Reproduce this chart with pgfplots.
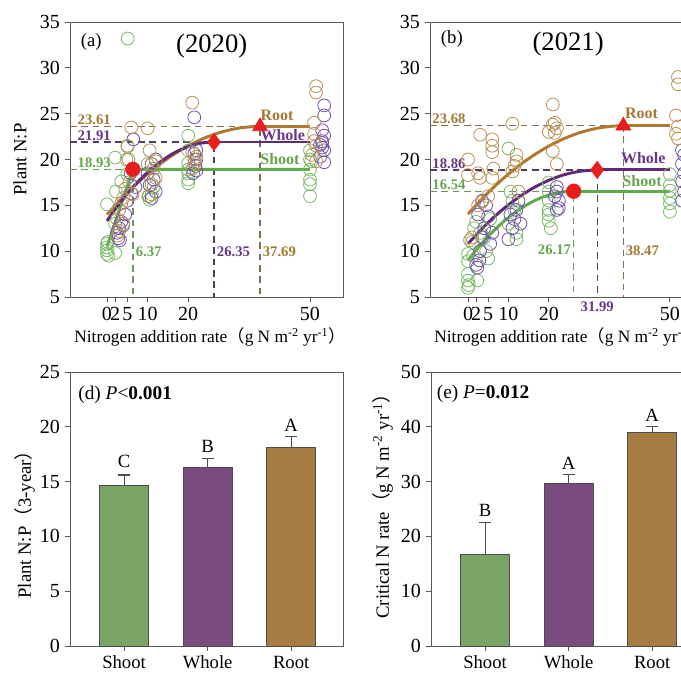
\documentclass[border=0pt]{standalone}
\usepackage{fontspec}
\setmainfont{Liberation Serif}
\newfontfamily\cjk{Noto Sans CJK SC}
\usepackage{pgfplots}
\pgfplotsset{compat=1.18}

\definecolor{shootc}{RGB}{95,170,75}
\definecolor{wholec}{RGB}{95,42,115}
\definecolor{rootc}{RGB}{176,120,48}
\definecolor{shootpt}{RGB}{120,185,100}
\definecolor{wholept}{RGB}{112,82,168}
\definecolor{rootpt}{RGB}{185,145,85}
\definecolor{shoottx}{RGB}{100,165,80}
\definecolor{wholetx}{RGB}{105,55,135}
\definecolor{roottx}{RGB}{165,120,50}
\definecolor{shootds}{RGB}{110,150,95}
\definecolor{wholeds}{RGB}{80,60,95}
\definecolor{rootds}{RGB}{130,110,80}
\definecolor{redm}{RGB}{232,30,30}
\definecolor{barg}{RGB}{122,164,102}
\definecolor{barp}{RGB}{122,75,126}
\definecolor{barb}{RGB}{165,124,66}

\tikzset{lbl/.style={font=\bfseries\fontsize{11}{11}\selectfont, inner sep=1pt}}
\pgfplotsset{
  panel/.style={scale only axis, width=204.75pt,
    axis line style={black!65, line width=0.7pt},
    tick style={black!65, line width=0.7pt},
    tick align=outside, tick pos=left, major tick length=4pt,
    ticklabel style={font=\fontsize{15}{15}\selectfont},
    /pgf/number format/assume math mode=true,
    label style={font=\fontsize{14}{16}\selectfont},
    clip=false},
  scat/.style={panel, height=206.25pt, ymin=5, ymax=35,
    ytick={5,10,...,35}, xtick={0,2,5,10,20,50},
    xlabel={Nitrogen addition rate{\cjk （}g N m\textsuperscript{-2} yr\textsuperscript{-1}{\cjk ）}},
    xlabel style={at={(axis description cs:0.513,-0.145)}, anchor=center, font=\fontsize{13}{15}\selectfont}},
  bars/.style={panel, height=205.5pt, xmin=0.353, xmax=3.62, ymin=0,
    xtick={1,2,3}, xticklabels={Shoot,Whole,Root},
    xticklabel style={font=\fontsize{14}{14}\selectfont}},
  pts/.style={only marks, mark=o, mark size=4.8pt, mark options={line width=0.6pt}},
  dsh/.style={line width=1pt, dash pattern=on 5pt off 3.5pt},
  crv/.style={line width=2.2pt},
  bar/.style={ybar, bar shift=0pt, bar width=0.587, draw=black!70, line width=0.6pt,
    error bars/y dir=plus, error bars/y explicit,
    error bars/error mark=|,
    error bars/error bar style={black!70, line width=0.8pt},
    error bars/error mark options={black!70, line width=0.8pt, mark size=4.5pt}},
}

\begin{document}
\begin{tikzpicture}
\path[use as bounding box, clip] (0,0) rectangle (510.75pt,511.5pt);

% (a) 2020
\begin{axis}[scat, at={(52.5pt,288.75pt)}, anchor=south west,
  xmin=-9.11, xmax=58.13,
  ylabel={Plant N:P}, ylabel style={at={(axis description cs:-0.183,0.5)}, anchor=center}]
\addplot[pts, shootpt] coordinates {
 (0,10.8) (0,10.4) (0,10.1) (0,9.7) (0.4,9.5) (0.2,11.0) (0,15.1) (2,9.8) (2,13.0) (2.2,16.5)
 (2,20.2) (5.1,33.2) (5.1,21.4) (4.8,20.0) (5,18.4) (3.5,17.6)
 (10.3,16.0) (10.5,15.6) (11,16.2) (10,19.5) (11.5,17.0)
 (20,22.6) (20,21.0) (20,19.6) (20,18.9) (20,18.5) (20,17.8) (20,17.4)
 (50,21.0) (50,20.0) (50.3,19.8) (50,18.9) (50,17.8) (50,17.3) (50,16.0)};
\addplot[pts, wholept] coordinates {
 (2.5,12.0) (3,12.5) (3.5,13.2) (4,12.8) (2.8,11.4) (3.2,11.2) (4.5,14.0) (5,15.5) (6.5,22.2)
 (5.8,18.5) (7,17.0) (6,16.3)
 (10,18.5) (11,19.5) (11.5,17.8) (12,16.5) (11,15.8) (12,20.0) (10.5,17.2)
 (21.5,24.6) (21.5,20.6) (22,20.0) (21.8,19.3) (22,18.8) (21.2,18.5) (22,21.0)
 (53.5,25.9) (53.5,24.8) (53,23.2) (53.5,22.6) (53,22.0) (52.5,21.6) (53,21.3) (53.5,21.0)
 (52.5,20.3) (53.5,19.7) (53,21.8)};
\addplot[pts, rootpt] coordinates {
 (2.5,13.5) (3,14.5) (3.5,15.2) (4,15.8) (3,12.2) (4.5,16.8) (2.6,11.7) (5.5,17.5) (6,23.5)
 (5.3,20.0) (6.3,16.2) (4,13.0) (5,21.5)
 (10,23.4) (10.5,21.0) (11,19.5) (11.5,19.0) (12,18.0) (10.2,16.0) (11,17.3) (12,19.8)
 (21,26.2) (21,20.8) (21.5,20.0) (21.5,19.6) (21,19.0) (22,20.3)
 (51.5,28.0) (51.5,27.3) (51,24.0) (51,22.8) (51.5,21.5) (50.5,20.5) (51.5,19.8) (51,22.0)};
\addplot[dsh, rootds] coordinates {(-9.11,23.61) (37.69,23.61) (37.69,5)};
\addplot[dsh, wholeds] coordinates {(-9.11,21.91) (26.35,21.91) (26.35,5)};
\addplot[dsh, shootds] coordinates {(-9.11,18.93) (6.37,18.93) (6.37,5)};
\addplot[crv, rootc, smooth] coordinates {(0,14.00) (4,15.93) (8,17.65) (12,19.15) (16,20.43)
 (20,21.49) (24,22.34) (28,22.97) (32,23.39) (36,23.59) (37.69,23.61)};
\addplot[crv, rootc] coordinates {(37.69,23.61) (50,23.61)};
\addplot[crv, shootc] coordinates {(0,10.5) (6.37,18.93) (50,18.93)};
\addplot[crv, wholec, smooth] coordinates {(0,13.30) (2,14.56) (4,15.72) (6,16.78) (8,17.73)
 (10,18.60) (12,19.36) (14,20.02) (16,20.58) (18,21.05) (20,21.41) (22,21.68) (24,21.84) (26.35,21.91)};
\addplot[crv, wholec] coordinates {(26.35,21.91) (50,21.91)};
\addplot[only marks, mark=*, mark size=5.5pt, redm] coordinates {(6.37,18.93)};
\addplot[only marks, mark=diamond*, mark size=6.5pt, redm] coordinates {(26.35,21.91)};
\addplot[only marks, mark=triangle*, mark size=6.5pt, redm] coordinates {(37.69,23.61)};
\node[lbl, roottx, anchor=south west] at (axis cs:-7.6,23.61) {23.61};
\node[lbl, wholetx, anchor=south west] at (axis cs:-7.6,21.91) {21.91};
\node[lbl, shoottx, anchor=south west] at (axis cs:-7.6,18.93) {18.93};
\node[lbl, shoottx, anchor=west] at (axis cs:6.7,9.9) {6.37};
\node[lbl, wholetx, anchor=west] at (axis cs:26.7,9.9) {26.35};
\node[lbl, roottx, anchor=west] at (axis cs:38.0,9.9) {37.69};
\node[lbl, roottx, font=\bfseries\fontsize{12}{12}\selectfont] at (axis cs:41.9,24.85) {Root};
\node[lbl, wholetx, font=\bfseries\fontsize{12}{12}\selectfont] at (axis cs:43.3,22.7) {Whole};
\node[lbl, shoottx, font=\bfseries\fontsize{12}{12}\selectfont] at (axis cs:42.6,20.1) {Shoot};
\node[font=\fontsize{14}{14}\selectfont] at (axis cs:-3.9,32.8) {(a)};
\node[font=\fontsize{20}{20}\selectfont] at (axis cs:25.8,32.4) {(2020)};
\end{axis}

% (b) 2021
\begin{axis}[scat, at={(322.5pt,288.75pt)}, anchor=south west,
  xmin=-9.41, xmax=58.2]
\addplot[pts, shootpt] coordinates {
 (0,8.9) (0,7.5) (0,6.8) (0.2,6.3) (0,6.0) (0,9.7) (1,11.0) (1.5,12.5) (2,13.2) (1.2,9.5)
 (2.3,6.8) (3,12.0) (4.5,10.0) (5,9.2) (5.5,13.5) (4,11.5)
 (10,21.2) (10.5,16.5) (11,15.5) (12,11.3) (11.5,14.5) (10,13.0) (12,12.0)
 (20,17.5) (20,15.5) (20,14.5) (20,14.0) (20,13.3) (20.5,12.5) (20,16.5)
 (50,18.4) (50,17.2) (50,16.6) (50,15.8) (50,15.2) (50,14.3)};
\addplot[pts, wholept] coordinates {
 (2,8.5) (2.3,8.2) (2.8,9.0) (3,10.0) (3.5,11.5) (4,12.5) (4.5,15.0) (3.5,15.5) (5,13.8)
 (6,12.0) (5.5,10.8) (2.5,14.0)
 (10,11.3) (11,12.5) (11.5,13.5) (12,14.5) (12.5,15.5) (13,13.0) (10.5,14.0)
 (22,17.0) (22,16.5) (22.5,15.5) (22,14.5) (22.5,14.7) (21.5,16.0)
 (53,21.0) (53.5,20.5) (53,19.5) (53.5,18.5) (53,17.6) (53.5,16.5) (53,15.5)};
\addplot[pts, rootpt] coordinates {
 (0,20.0) (0,18.3) (0.5,11.2) (1,11.5) (3,22.7) (2.5,18.5) (3,18.0) (2.5,15.0) (3.5,15.4)
 (6,22.2) (6,21.5) (6,20.8) (6.3,19.0) (6,18.0) (5,16.0)
 (11,23.9) (11.5,19.3) (12,19.8) (11,18.7) (12.5,16.5) (12,20.5)
 (20,23.0) (21,26.0) (21.5,24.0) (21,23.8) (22,23.4) (21.5,22.9) (21,20.9) (22,19.5)
 (52,29.0) (52,28.2) (51.5,24.8) (52,23.6) (51.5,22.8) (52,22.3)};
\addplot[dsh, rootds] coordinates {(-9.41,23.68) (38.47,23.68) (38.47,5)};
\addplot[dsh, wholeds] coordinates {(-9.41,18.86) (31.99,18.86) (31.99,5)};
\addplot[dsh, shootds] coordinates {(-9.41,16.54) (26.17,16.54) (26.17,5)};
\addplot[crv, rootc, smooth] coordinates {(0,14.05) (4,15.95) (8,17.64) (12,19.12) (16,20.39)
 (20,21.46) (24,22.32) (28,22.97) (32,23.41) (36,23.64) (38.47,23.68)};
\addplot[crv, rootc] coordinates {(38.47,23.68) (50,23.68)};
\addplot[crv, wholec, smooth] coordinates {(0,10.80) (4,12.69) (8,14.33) (12,15.71) (16,16.85)
 (20,17.73) (24,18.36) (28,18.73) (31.99,18.86)};
\addplot[crv, wholec] coordinates {(31.99,18.86) (50,18.86)};
\addplot[crv, shootc, smooth] coordinates {(0,9.00) (3,10.63) (6,12.06) (9,13.29) (12,14.33)
 (15,15.17) (18,15.81) (21,16.25) (24,16.49) (26.17,16.54)};
\addplot[crv, shootc] coordinates {(26.17,16.54) (50,16.54)};
\addplot[only marks, mark=*, mark size=5.5pt, redm] coordinates {(26.17,16.54)};
\addplot[only marks, mark=diamond*, mark size=6.5pt, redm] coordinates {(31.99,18.86)};
\addplot[only marks, mark=triangle*, mark size=6.5pt, redm] coordinates {(38.47,23.68)};
\node[lbl, roottx, anchor=south west] at (axis cs:-9.2,23.68) {23.68};
\node[lbl, wholetx, anchor=south west] at (axis cs:-9.2,18.86) {18.86};
\node[lbl, shoottx, anchor=south west] at (axis cs:-9.2,16.54) {16.54};
\node[lbl, shoottx, anchor=east] at (axis cs:25.9,10.1) {26.17};
\node[lbl, wholetx, anchor=north] at (axis cs:31.99,4.6) {31.99};
\node[lbl, roottx, anchor=west] at (axis cs:38.7,10.1) {38.47};
\node[lbl, roottx, font=\bfseries\fontsize{12}{12}\selectfont] at (axis cs:43.0,25.0) {Root};
\node[lbl, wholetx, font=\bfseries\fontsize{12}{12}\selectfont] at (axis cs:43.4,20.2) {Whole};
\node[lbl, shoottx, font=\bfseries\fontsize{12}{12}\selectfont] at (axis cs:43.1,17.7) {Shoot};
\node[font=\fontsize{14}{14}\selectfont] at (axis cs:-4.0,33.1) {(b)};
\node[font=\fontsize{20}{20}\selectfont] at (axis cs:24.8,32.6) {(2021)};
\end{axis}

% (d)
\begin{axis}[bars, at={(52.5pt,27pt)}, anchor=south west,
  ymax=25, ytick={0,5,...,25},
  ylabel={Plant N:P{\cjk （}3-year{\cjk ）}},
  ylabel style={at={(axis description cs:-0.165,0.46)}, anchor=center}]
\addplot[bar, fill=barg] coordinates {(1,14.69) +- (0,0.91)};
\addplot[bar, fill=barp] coordinates {(2,16.27) +- (0,0.86)};
\addplot[bar, fill=barb] coordinates {(3,18.13) +- (0,0.97)};
\node[font=\fontsize{14}{14}\selectfont, anchor=south, inner sep=0pt] at (axis cs:1,16.2) {C};
\node[font=\fontsize{14}{14}\selectfont, anchor=south, inner sep=0pt] at (axis cs:2,17.6) {B};
\node[font=\fontsize{14}{14}\selectfont, anchor=south, inner sep=0pt] at (axis cs:3,19.55) {A};
\node[font=\fontsize{14.5}{14.5}\selectfont, anchor=west, inner sep=0pt] at (axis cs:0.45,22.9)
 {(d) \textit{P}<\textbf{0.001}};
\end{axis}

% (e)
\begin{axis}[bars, at={(323.25pt,27pt)}, anchor=south west,
  ymax=50, ytick={0,10,...,50},
  ylabel={Critical N rate{\cjk （}g N m\textsuperscript{-2} yr\textsuperscript{-1}{\cjk ）}},
  ylabel style={at={(axis description cs:-0.176,0.527)}, anchor=center}]
\addplot[bar, fill=barg] coordinates {(1,16.79) +- (0,5.78)};
\addplot[bar, fill=barp] coordinates {(2,29.69) +- (0,1.64)};
\addplot[bar, fill=barb] coordinates {(3,39.0) +- (0,1.0)};
\node[font=\fontsize{14}{14}\selectfont, anchor=south, inner sep=0pt] at (axis cs:1,23.5) {B};
\node[font=\fontsize{14}{14}\selectfont, anchor=south, inner sep=0pt] at (axis cs:2,32.1) {A};
\node[font=\fontsize{14}{14}\selectfont, anchor=south, inner sep=0pt] at (axis cs:3,40.9) {A};
\node[font=\fontsize{14.5}{14.5}\selectfont, anchor=west, inner sep=0pt] at (axis cs:0.42,46.0)
 {(e) \textit{P}=\textbf{0.012}};
\end{axis}
\end{tikzpicture}
\end{document}
